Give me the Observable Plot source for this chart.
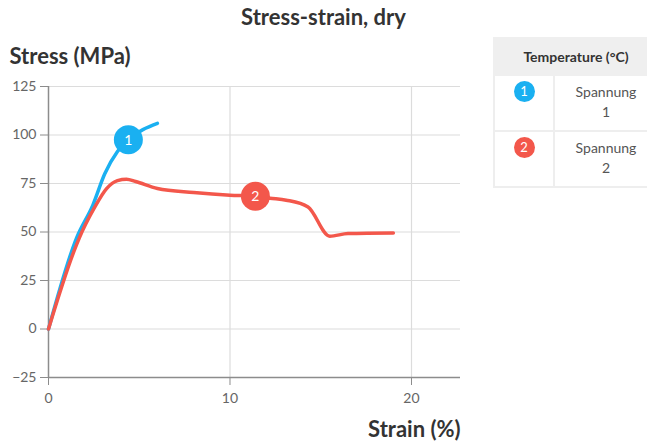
<!DOCTYPE html>
<html>
<head>
<meta charset="utf-8">
<script src="https://cdn.jsdelivr.net/npm/d3@7"></script>
<script src="https://cdn.jsdelivr.net/npm/@observablehq/plot@0.6"></script>
<style>
  html, body { margin: 0; padding: 0; background: #fff; }
  body { width: 647px; height: 444px; overflow: hidden; font-family: Lato, "Noto Sans", sans-serif; }
  #wrap { position: relative; width: 647px; height: 444px; overflow: hidden; }
  #title { position: absolute; left: 0; top: 3px; width: 647px; text-align: center; font-family: Lato, sans-serif; font-weight: 700; font-size: 22px; color: #333; }
  #legend { position: absolute; left: 493px; top: 37px; width: 166px; table-layout: fixed; border-collapse: collapse; font-family: Lato, sans-serif; }
  #legend th { background: #efefef; font-weight: 700; font-size: 14px; color: #333; height: 35px; padding: 0; text-align: center; border: 2px solid #efefef; }
  #legend td { border: 2px solid #eeeeee; height: 54px; padding: 0; vertical-align: top; text-align: center; color: #555; font-size: 14px; line-height: 20px; }
  #legend td.c2 { padding-top: 6px; height: 48px; }
  .badge { display: inline-block; width: 21px; height: 21px; border-radius: 50%; color: #fff; font-size: 13px; line-height: 21px; margin-top: 5px; }
  svg text { font-family: Lato, "Noto Sans", sans-serif; }
</style>
</head>
<body>
<div id="wrap">
  <div id="title">Stress-strain, dry</div>
  <div id="chart"></div>
  <table id="legend"><colgroup><col style="width:60px"><col></colgroup><tbody id="lb"></tbody></table>
</div>
<script>
// ---- data ----
const seriesNames = ["Spannung 1", "Spannung 2"];
const seriesIds = ["1", "2"];
const seriesColors = ["#1ab0f1", "#f3574b"];

const strain1 = [0, 1.55, 2.45, 3.1, 3.8, 4.4, 6.0];
const stress1 = [0, 47, 64, 80, 91.5, 97.5, 106];

const strain2 = [0, 1.4, 1.7, 2.5, 3.2, 3.8, 4.3, 4.8, 6.0, 8.0, 10.0, 11.4, 12.2, 13.1, 14.3, 15.5, 16.5, 19.0];
const stress2 = [0, 40, 47, 62, 72.4, 76.5, 77.2, 76, 72.4, 70.4, 69.0, 68.4, 67.4, 66.4, 62.9, 47.8, 49.2, 49.5];

const labelStrain = [4.4, 11.4];
const labelStress = [97.5, 68.4];

const yTicks = [-25, 0, 25, 50, 75, 100, 125];
const xTicks = [0, 10, 20];

// ---- build tables ----
const rows1 = strain1.map((x, i) => ({x, y: stress1[i]}));
const rows2 = strain2.map((x, i) => ({x, y: stress2[i]}));
const labels = labelStrain.map((x, i) => ({x, y: labelStress[i], id: seriesIds[i], color: seriesColors[i]}));

const gridColor = "#dcdcdc";
const axisColor = "#8c8c8c";

const chart = Plot.plot({
  width: 647,
  height: 444,
  marginLeft: 48,
  marginRight: 187,
  marginTop: 86,
  marginBottom: 67,
  style: {background: "transparent", overflow: "visible"},
  x: {domain: [0, 22.7], ticks: xTicks, label: null},
  y: {domain: [-25, 125], ticks: yTicks, label: null},
  marks: [
    Plot.ruleY(yTicks.filter(d => d > -25), {stroke: gridColor, strokeWidth: 1.2}),
    Plot.ruleX(xTicks.filter(d => d > 0), {stroke: gridColor, strokeWidth: 1.2}),
    Plot.ruleY([-25], {stroke: axisColor, strokeWidth: 1.5}),
    Plot.ruleX([0], {stroke: axisColor, strokeWidth: 1.5}),
    Plot.axisY({ticks: yTicks, tickSize: 8, tickPadding: 4, stroke: axisColor, color: "#666", fontSize: 14, label: null}),
    Plot.axisX({ticks: xTicks, tickSize: 8, tickPadding: 8, stroke: axisColor, color: "#666", fontSize: 14, label: null}),
    Plot.line(rows1, {x: "x", y: "y", stroke: seriesColors[0], strokeWidth: 3.5, curve: "monotone-x"}),
    Plot.line(rows2, {x: "x", y: "y", stroke: seriesColors[1], strokeWidth: 3.5, curve: "monotone-x"}),
    Plot.dot(labels, {x: "x", y: "y", r: 14.5, fill: "color", stroke: null}),
    Plot.text(labels, {x: "x", y: "y", text: "id", fill: "#fff", fontSize: 14, dy: 0.5}),
    Plot.text(["Stress (MPa)"], {frameAnchor: "top-left", dx: -39, dy: -38, text: d => d, fontSize: 22, fontWeight: 700, fill: "#333", textAnchor: "start"}),
    Plot.text(["Strain (%)"], {frameAnchor: "bottom-right", dx: 0, dy: 59, text: d => d, fontSize: 22, fontWeight: 700, fill: "#333", textAnchor: "end"})
  ]
});
document.getElementById("chart").appendChild(chart);

// ---- legend ----
let html = `<tr><th colspan="2">Temperature (°C)</th></tr>`;
seriesNames.forEach((name, i) => {
  const parts = name.split(" ");
  html += `<tr><td class="c1"><span class="badge" style="background:${seriesColors[i]}">${seriesIds[i]}</span></td>` +
          `<td class="c2">${parts[0]}<br>${parts[1]}</td></tr>`;
});
document.getElementById("lb").innerHTML = html;
</script>
</body>
</html>
